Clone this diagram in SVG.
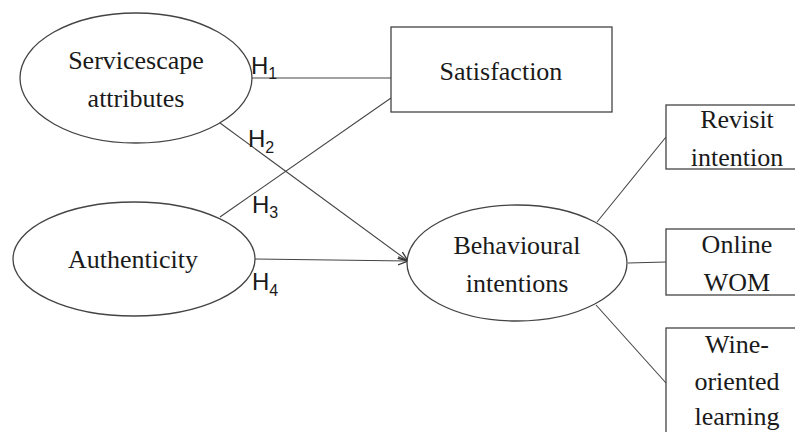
<svg xmlns="http://www.w3.org/2000/svg" width="795" height="432" viewBox="0 0 795 432">
<style>
.shape{fill:#fff;stroke:#444;stroke-width:1.3}
.t{font-family:"Liberation Serif","Times New Roman",serif;font-size:26px;fill:#1a1a1a;text-anchor:middle}
.h{font-family:"Liberation Sans",Arial,sans-serif;font-size:24px;fill:#1a1a1a}
.sub{font-size:16px}
.c{stroke:#444;stroke-width:1.1;fill:none}
</style>
<defs>
<marker id="arr" viewBox="0 0 10 10" refX="10" refY="5" markerWidth="10" markerHeight="10" markerUnits="userSpaceOnUse" orient="auto">
<path d="M0,1 L10,5 L0,9" fill="none" stroke="#333" stroke-width="1.3"/>
</marker>
</defs>
<rect width="795" height="432" fill="#fff"/>
<g id="connectors">
<line class="c" x1="252" y1="78" x2="391" y2="78"/>
<line class="c" x1="220" y1="123" x2="408" y2="261" marker-end="url(#arr)"/>
<line class="c" x1="220" y1="217" x2="391" y2="98"/>
<line class="c" x1="255" y1="259" x2="408" y2="261" marker-end="url(#arr)"/>
<line class="c" x1="597" y1="222" x2="666" y2="137"/>
<line class="c" x1="628" y1="263" x2="666" y2="262"/>
<line class="c" x1="596" y1="305" x2="666" y2="383"/>
</g>
<g id="labels">
<text class="h" x="251" y="74">H<tspan class="sub" dy="5">1</tspan></text>
<text class="h" x="248" y="147">H<tspan class="sub" dy="6">2</tspan></text>
<text class="h" x="252" y="213">H<tspan class="sub" dy="5">3</tspan></text>
<text class="h" x="252" y="290">H<tspan class="sub" dy="6">4</tspan></text>
</g>
<g id="servicescape">
<ellipse class="shape" cx="136" cy="78" rx="116" ry="65"/>
<text class="t" x="136" y="69">Servicescape</text>
<text class="t" x="136" y="107">attributes</text>
</g>
<g id="authenticity">
<ellipse class="shape" cx="134" cy="259" rx="121" ry="57"/>
<text class="t" x="133" y="268">Authenticity</text>
</g>
<g id="satisfaction">
<rect class="shape" x="391" y="27" width="221" height="85"/>
<text class="t" x="501" y="80">Satisfaction</text>
</g>
<g id="behavioural">
<ellipse class="shape" cx="517" cy="263" rx="110" ry="58"/>
<text class="t" x="517" y="254">Behavioural</text>
<text class="t" x="517" y="292">intentions</text>
</g>
<g id="revisit">
<rect class="shape" x="666" y="105" width="140" height="64"/>
<text class="t" x="737" y="128">Revisit</text>
<text class="t" x="737" y="166">intention</text>
</g>
<g id="online">
<rect class="shape" x="666" y="229" width="140" height="66"/>
<text class="t" x="737" y="253">Online</text>
<text class="t" x="737" y="291">WOM</text>
</g>
<g id="wine">
<rect class="shape" x="666" y="328" width="140" height="120"/>
<text class="t" x="737" y="353">Wine-</text>
<text class="t" x="737" y="390">oriented</text>
<text class="t" x="737" y="425">learning</text>
</g>
</svg>
